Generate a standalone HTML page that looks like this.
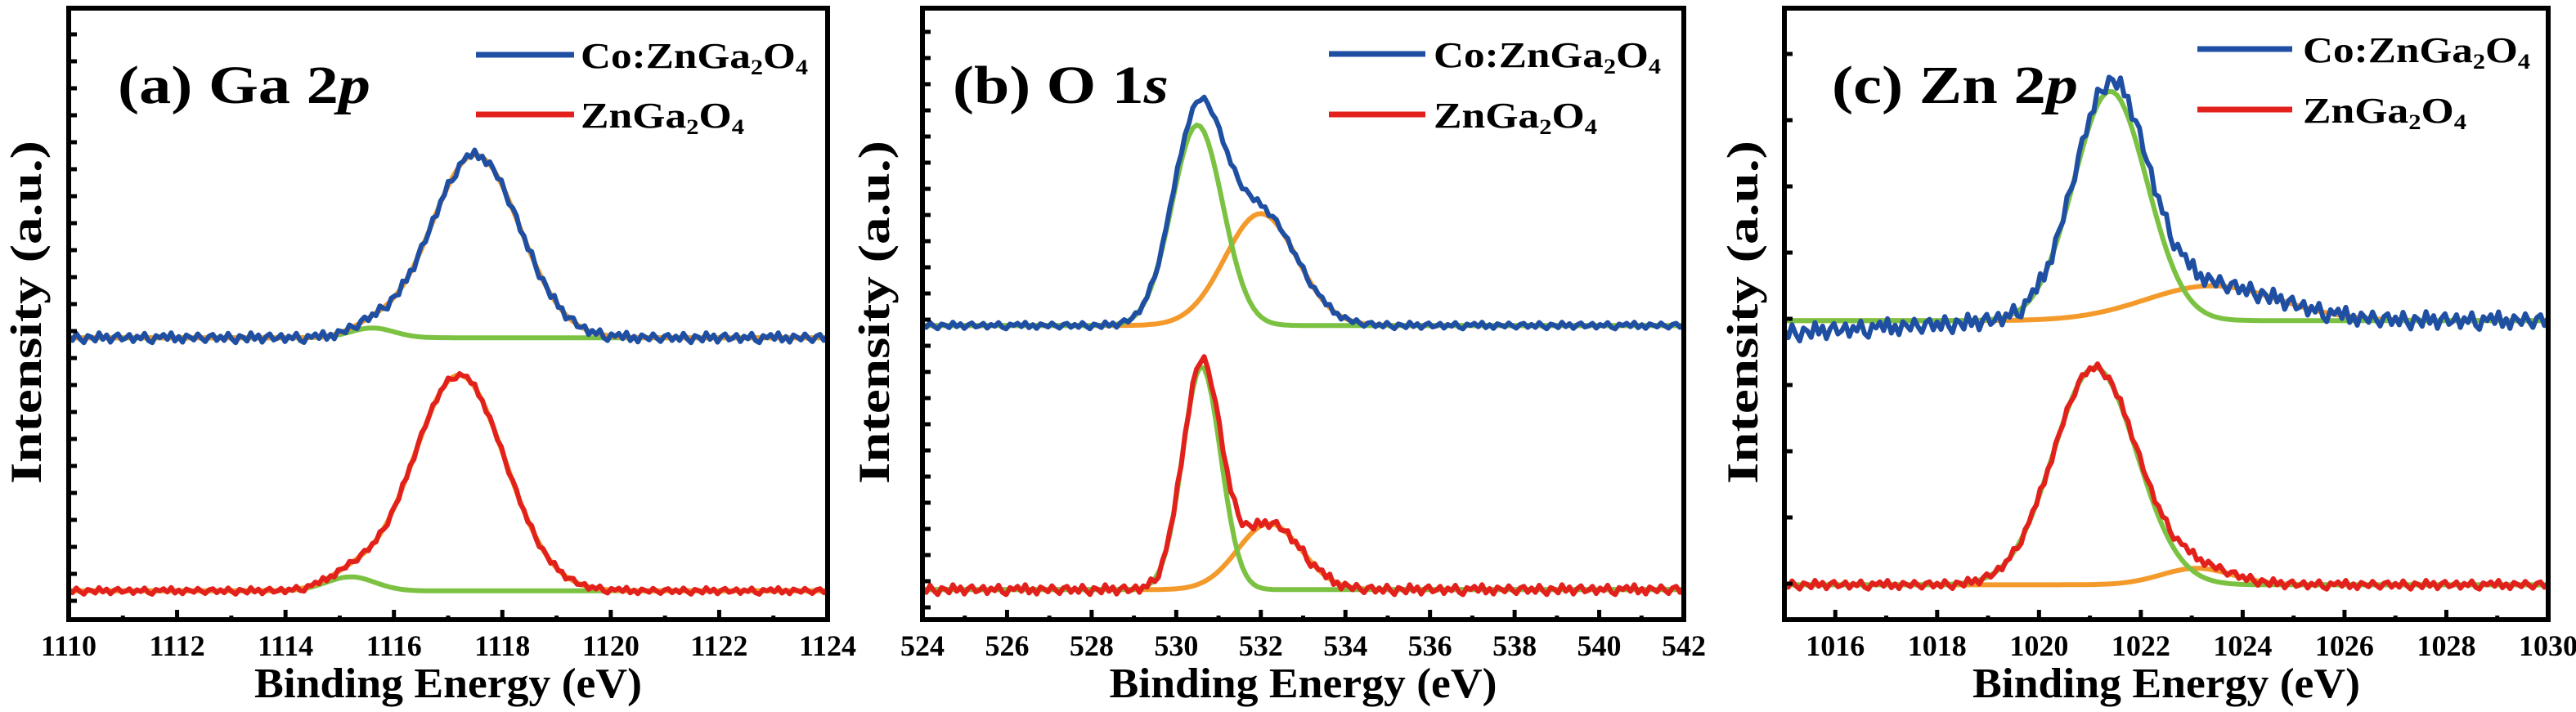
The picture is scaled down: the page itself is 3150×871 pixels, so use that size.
<!DOCTYPE html>
<html><head><meta charset="utf-8"><style>
html,body{margin:0;padding:0;background:#fff;}
svg{display:block;}
text{font-family:"Liberation Serif","Times New Roman",serif;font-weight:bold;fill:#000;}
</style></head><body>
<svg id="chart" width="3150" height="871" viewBox="0 0 3150 871" xmlns="http://www.w3.org/2000/svg"></svg>
<script>
// ---- data (peak parameters; intensity units 0-100 per panel) ----
const panelNames = ["ga-2p", "o-1s", "zn-2p"];
const xDomains = [[1110, 1124], [524, 542], [1015, 1030]];
const xTickLabels = [
  ["1110","1112","1114","1116","1118","1120","1122","1124"],
  ["524","526","528","530","532","534","536","538","540","542"],
  ["1016","1018","1020","1022","1024","1026","1028","1030"]
];
// Co:ZnGa2O4 (blue) : baseline, comp1 [center, amp, sigma], comp2 [center, amp, sigma]
const blueBaseline = [46.1, 48.1, 48.9];
const blueComp1 = [[1117.5, 29.9, 0.82], [530.5, 32.8, 0.6], [1021.4, 37.5, 0.72]];
const blueComp2 = [[1115.6, 1.6, 0.4], [532.0, 18.3, 0.85], [1023.4, 5.7, 1.3]];
// ZnGa2O4 (red)
const redBaseline = [4.7, 4.9, 5.7];
const redComp1 = [[1117.2, 35.3, 0.85], [530.6, 36.5, 0.45], [1021.1, 35.5, 0.82]];
const redComp2 = [[1115.2, 2.3, 0.45], [532.2, 10.8, 0.75], [1023.1, 2.7, 0.7]];
// measured-data noise (hand-read wiggle values, reused cyclically)
const noiseValues = [0.3,-0.5,0.8,-0.2,-0.9,0.4,0.1,-0.6,0.9,-0.3,0.5,-0.8,0.2,0.7,-0.4,-0.1,0.6,-0.7,0.3,-0.2,0.8,-0.5,-0.9,0.4,0.0,0.6,-0.3,0.9,-0.6,0.2,-0.8,0.5,0.1,-0.4,0.7,-0.1,-0.7,0.3,0.6,-0.5];
const blueNoiseAmp = [0.9, 0.6, 1.6];
const redNoiseAmp = [0.6, 0.9, 0.8];

// ---- layout ----
const frames = [[84, 1012], [1128, 2059], [2182, 3116]];
const frameTop = 10, frameBottom = 758;
const leftTickSpacing = [33, 32, 81], leftTickStart = [42, 39, 66];
const titleInfo = [["(a) Ga 2","p",144,309],["(b) O 1","s",1165,264],["(c) Zn 2","p",2240,301]];
const legendInfo = [[582,702,710,67,140],[1625,1743,1753,66,140],[2687,2803,2816,60,134]];
const ylabelX = [32, 1069, 2131];
const FF = '"Liberation Serif","Times New Roman",serif';
const ns = "http://www.w3.org/2000/svg";
const svg = document.getElementById("chart");
function mk(tag, attrs, parent) {
  const e = document.createElementNS(ns, tag);
  for (const k in attrs) e.setAttribute(k, attrs[k]);
  if (tag === "text") e.setAttribute("font-family", FF);
  (parent || svg).appendChild(e);
  return e;
}
function gauss(x, c) { return c[1] * Math.exp(-((x - c[0]) ** 2) / (2 * c[2] * c[2])); }

for (let p = 0; p < 3; p++) {
  const [L, R] = frames[p];
  const [d0, d1] = xDomains[p];
  const xs = v => L + (v - d0) / (d1 - d0) * (R - L);
  const ys = v => frameBottom - v / 100 * (frameBottom - frameTop);
  const g = mk("g", {});
  
  

  const series = [
    { base: blueBaseline[p], c1: blueComp1[p], c2: blueComp2[p], col: "#1f4fa3", amp: blueNoiseAmp[p], name: "co-doped" },
    { base: redBaseline[p], c1: redComp1[p], c2: redComp2[p], col: "#e3211c", amp: redNoiseAmp[p], name: "undoped" }
  ];
  const N = 200;
  series.forEach((s, si) => {
    let pg = "", po = "", pd = "";
    for (let i = 0; i <= N; i++) {
      const x = d0 + (d1 - d0) * i / N;
      const a = gauss(x, s.c1), b = gauss(x, s.c2);
      const X = xs(x).toFixed(1);
      let greenV, orangeV;
      if (p === 0) { greenV = s.base + b; orangeV = s.base + a + b; }
      else { greenV = s.base + a; orangeV = s.base + b; }
      let dataV = s.base + a + b + s.amp * noiseValues[i % noiseValues.length];
      if (p === 2 && si === 0 && x < 1019.5) dataV -= (1019.5 - x) * 0.45;
      pg += (i ? "L" : "M") + X + " " + ys(greenV).toFixed(1);
      po += (i ? "L" : "M") + X + " " + ys(orangeV).toFixed(1);
      pd += (i ? "L" : "M") + X + " " + ys(dataV).toFixed(1);
    }
    const order = p === 0 ? [["green", pg, "#7cc242"], ["orange", po, "#f39a2b"]] : [["orange", po, "#f39a2b"], ["green", pg, "#7cc242"]];
    order.forEach(o => {
      const e = mk("path", { d: o[1], fill: "none", stroke: o[2], "stroke-width": 6, "stroke-linejoin": "round" }, g);
      
      
    });
    const e = mk("path", { d: pd, fill: "none", stroke: s.col, "stroke-width": 6, "stroke-linejoin": "round" }, g);
    
    
  });

  const fr = mk("rect", { x: L, y: frameTop, width: R - L, height: frameBottom - frameTop, fill: "none", stroke: "#000", "stroke-width": 6 }, g);
  
  
  for (let y = leftTickStart[p]; y < frameBottom - 10; y += leftTickSpacing[p]) {
    const t = mk("line", { x1: L, x2: L + 10, y1: y, y2: y, stroke: "#000", "stroke-width": 5 }, g);
    
    
  }
  for (let v = d0; v <= d1; v++) {
    const major = xTickLabels[p].includes(String(v));
    const t = mk("line", { x1: xs(v), x2: xs(v), y1: frameBottom, y2: frameBottom - (major ? 12 : 5), stroke: "#000", "stroke-width": 5 }, g);
    
    
  }
  xTickLabels[p].forEach(lb => {
    const t = mk("text", { x: xs(+lb), y: 802, "font-size": 36, "text-anchor": "middle" }, g);
    t.textContent = lb;
    
    
  });
  const xl = mk("text", { x: (L + R) / 2, y: 853, "font-size": 52, "text-anchor": "middle", textLength: 474, lengthAdjust: "spacingAndGlyphs" }, g);
  xl.textContent = "Binding Energy (eV)";
  
  
  const yl = mk("text", { x: 0, y: 0, "font-size": 54, "text-anchor": "middle", textLength: 420, lengthAdjust: "spacingAndGlyphs", transform: `translate(${ylabelX[p] + 18},382) rotate(-90)` }, g);
  yl.textContent = "Intensity (a.u.)";
  
  
  const ti = titleInfo[p];
  const tt = mk("text", { x: ti[2], y: 126, "font-size": 66, textLength: ti[3], lengthAdjust: "spacingAndGlyphs" }, g);
  tt.innerHTML = ti[0] + '<tspan font-style="italic">' + ti[1] + '</tspan>';
  
  
  const lg = legendInfo[p];
  [["#1f4fa3", lg[3], 'Co:ZnGa<tspan font-size="26" dy="8">2</tspan><tspan dy="-8">O</tspan><tspan font-size="26" dy="8">4</tspan>', 278, "legend-entry-co-znga2o4"],
   ["#e3211c", lg[4], 'ZnGa<tspan font-size="26" dy="8">2</tspan><tspan dy="-8">O</tspan><tspan font-size="26" dy="8">4</tspan>', 200, "legend-entry-znga2o4"]].forEach(en => {
    const ln = mk("line", { x1: lg[0], x2: lg[1], y1: en[1], y2: en[1], stroke: en[0], "stroke-width": 7 }, g);
    
    
    const tx = mk("text", { x: lg[2], y: en[1] + 16, "font-size": 44, textLength: en[3], lengthAdjust: "spacingAndGlyphs" }, g);
    tx.innerHTML = en[2];
    
    
  });
}
</script>
</body></html>
